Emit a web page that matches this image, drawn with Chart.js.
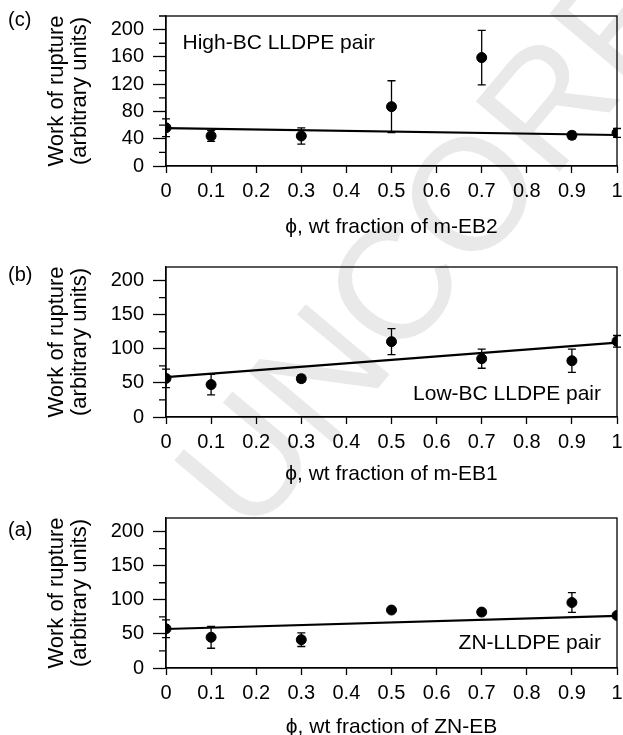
<!DOCTYPE html>
<html>
<head>
<meta charset="utf-8">
<script src="https://cdn.jsdelivr.net/npm/chart.js@4.4.1/dist/chart.umd.min.js"></script>
<style>
  html, body { margin: 0; padding: 0; background: #fff; }
  body { width: 623px; height: 735px; overflow: hidden; position: relative; font-family: 'Liberation Sans', Arial, sans-serif; }
  .mark { position: absolute; left: 251px; top: 406px; font-size: 159px; line-height: 1; color: #e9e9e9; white-space: nowrap; transform-origin: 0 135px; transform: rotate(-50deg); }
  canvas { position: absolute; left: 0; }
</style>
</head>
<body>
<div class="mark">UNCORRECTED PROOF</div>
<canvas id="chartC" width="623" height="251" style="top:0"></canvas>
<canvas id="chartB" width="623" height="251" style="top:251px"></canvas>
<canvas id="chartA" width="623" height="251" style="top:502px"></canvas>
<script>
const FONT = "'Liberation Sans', Arial, sans-serif";

// blend compositions (wt fraction)
const phi = [0, 0.1, 0.3, 0.5, 0.7, 0.9, 1];
const xTicks = [0, 0.1, 0.2, 0.3, 0.4, 0.5, 0.6, 0.7, 0.8, 0.9, 1];
const yTicksC = [0, 40, 80, 120, 160, 200];
const yTicksAB = [0, 50, 100, 150, 200];

// (c) High-BC LLDPE pair, m-EB2
const workC = [56, 44, 44, 87, 159, 45, 48.5];
const errC = [13, 8, 12, 38, 40, 5, 6.5];
const fitC = [55.5, 45.5];

// (b) Low-BC LLDPE pair, m-EB1
const workB = [56.6, 47.5, 56.2, 110.5, 85.5, 82.5, 111];
const errB = [13.5, 15, 5, 19, 14, 17, 8.5];
const fitB = [58.5, 109];

// (a) ZN-LLDPE pair, ZN-EB
const workA = [57.5, 45, 41.5, 85, 82, 96, 77];
const errA = [13, 16, 10, 0, 0, 14.5, 0];
const fitA = [57.2, 76.4];

// error bars, box, minor ticks, panel letter and note
const panelDecor = {
    id: 'panelDecor',
    beforeDatasetsDraw(chart) {
        const ctx = chart.ctx;
        const xs = chart.scales.x, ys = chart.scales.y;
        ctx.save();
        ctx.strokeStyle = '#000';
        ctx.lineWidth = 1.3;
        chart.data.datasets.forEach(ds => {
            if (!ds.errors) return;
            ds.data.forEach((p, i) => {
                const e = ds.errors[i];
                if (!e) return;
                const x = xs.getPixelForValue(p.x);
                const y1 = ys.getPixelForValue(p.y - e);
                const y2 = ys.getPixelForValue(p.y + e);
                ctx.beginPath();
                ctx.moveTo(x, y1); ctx.lineTo(x, y2);
                ctx.moveTo(x - 4, y1); ctx.lineTo(x + 4, y1);
                ctx.moveTo(x - 4, y2); ctx.lineTo(x + 4, y2);
                ctx.stroke();
            });
        });
        ctx.restore();
    },
    afterDraw(chart, args, opts) {
        const ctx = chart.ctx;
        const a = chart.chartArea;
        const ys = chart.scales.y;
        ctx.save();
        ctx.strokeStyle = '#000';
        ctx.lineWidth = 1.3;
        ctx.strokeRect(a.left, a.top, a.right - a.left, a.bottom - a.top);

        // minor y ticks halfway between the labelled ones
        const t = opts.yTicks;
        const step = t[1] - t[0];
        ctx.beginPath();
        for (let v = t[0] + step / 2; v <= ys.max + 0.01; v += step) {
            const y = ys.getPixelForValue(v);
            ctx.moveTo(a.left, y);
            ctx.lineTo(a.left - 7, y);
        }
        ctx.stroke();

        ctx.fillStyle = '#000';
        ctx.font = '20px ' + FONT;
        ctx.textAlign = 'left';
        ctx.textBaseline = 'middle';
        ctx.fillText(opts.letter, 8, opts.letterY);

        ctx.font = '21px ' + FONT;
        ctx.textBaseline = 'alphabetic';
        ctx.textAlign = opts.noteAlign;
        const nx = opts.noteAlign === 'left' ? a.left + 16.5 : a.right - 16;
        const ny = opts.noteFromTop ? a.top + opts.noteDy : a.bottom - opts.noteDy;
        ctx.fillText(opts.note, nx, ny);
        ctx.restore();
    }
};

function makePanel(id, cfg) {
    return new Chart(document.getElementById(id), {
        type: 'scatter',
        data: {
            datasets: [
                {
                    type: 'scatter',
                    data: phi.map((x, i) => ({ x: x, y: cfg.work[i] })),
                    errors: cfg.err,
                    backgroundColor: '#000',
                    borderColor: '#000',
                    pointRadius: 5,
                    pointHoverRadius: 5
                },
                {
                    type: 'line',
                    data: [{ x: 0, y: cfg.fit[0] }, { x: 1, y: cfg.fit[1] }],
                    borderColor: '#000',
                    borderWidth: 2.2,
                    pointRadius: 0,
                    fill: false
                }
            ]
        },
        options: {
            responsive: false,
            animation: false,
            layout: { padding: { top: 16, right: 6, left: 0, bottom: 0 } },
            plugins: {
                legend: { display: false },
                tooltip: { enabled: false },
                panelDecor: cfg.decor
            },
            scales: {
                x: {
                    type: 'linear',
                    min: 0,
                    max: 1,
                    afterBuildTicks: s => { s.ticks = xTicks.map(v => ({ value: v })); },
                    afterFit: s => { s.height = 85; s.paddingLeft = 0; s.paddingRight = 0; },
                    grid: { drawOnChartArea: false, tickLength: 7, tickWidth: 1.3, tickColor: '#000' },
                    border: { color: '#000', width: 1.3 },
                    ticks: {
                        color: '#000',
                        font: { size: 20, family: FONT },
                        padding: 6,
                        maxRotation: 0,
                        autoSkip: false,
                        callback: v => String(v)
                    },
                    title: {
                        display: true,
                        text: cfg.xTitle,
                        color: '#000',
                        font: { size: 21, family: FONT },
                        padding: { top: 0, bottom: cfg.xTitlePad }
                    }
                },
                y: {
                    type: 'linear',
                    min: 0,
                    max: 220,
                    afterBuildTicks: s => { s.ticks = cfg.decor.yTicks.map(v => ({ value: v })); },
                    afterFit: s => { s.width = 166; s.paddingTop = 0; s.paddingBottom = 0; },
                    grid: { drawOnChartArea: false, tickLength: 13, tickWidth: 1.3, tickColor: '#000' },
                    border: { color: '#000', width: 1.3 },
                    ticks: {
                        color: '#000',
                        font: { size: 20, family: FONT },
                        padding: 9,
                        callback: v => String(v)
                    },
                    title: {
                        display: true,
                        text: ['Work of rupture', '(arbitrary units)'],
                        color: '#000',
                        font: { size: 22, family: FONT, lineHeight: 1.05 },
                        padding: { top: 45.5, bottom: 0 }
                    }
                }
            }
        },
        plugins: [panelDecor]
    });
}

makePanel('chartC', {
    work: workC, err: errC, fit: fitC,
    xTitle: '\u03d5, wt fraction of m-EB2', xTitlePad: 11.5,
    decor: { yTicks: yTicksC, letter: '(c)', letterY: 20, note: 'High-BC LLDPE pair', noteAlign: 'left', noteFromTop: true, noteDy: 33 }
});
makePanel('chartB', {
    work: workB, err: errB, fit: fitB,
    xTitle: '\u03d5, wt fraction of m-EB1', xTitlePad: 15.5,
    decor: { yTicks: yTicksAB, letter: '(b)', letterY: 24, note: 'Low-BC LLDPE pair', noteAlign: 'right', noteFromTop: false, noteDy: 17 }
});
makePanel('chartA', {
    work: workA, err: errA, fit: fitA,
    xTitle: '\u03d5, wt fraction of ZN-EB', xTitlePad: 13.5,
    decor: { yTicks: yTicksAB, letter: '(a)', letterY: 28, note: 'ZN-LLDPE pair', noteAlign: 'right', noteFromTop: false, noteDy: 19 }
});
</script>
</body>
</html>
